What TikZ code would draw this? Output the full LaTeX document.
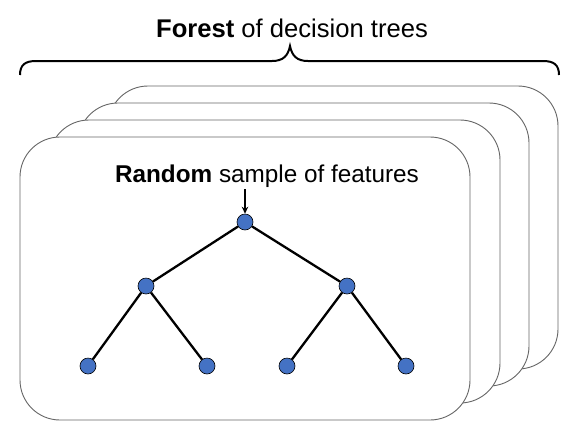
\documentclass[tikz,border=0pt]{standalone}
\usepackage{fontspec}
\setmainfont{Liberation Sans}
\usetikzlibrary{arrows.meta}
\definecolor{nodeblue}{HTML}{4472C4}
\tikzset{
  card/.style={draw=black!60, line width=0.9pt, fill=white, rounded corners=40pt},
  leafnode/.style={circle, draw=black, line width=0.6pt, fill=nodeblue, minimum size=16pt, inner sep=0pt},
  edge/.style={line width=2.3pt, black},
  bracestyle/.style={line width=2pt, black},
  label/.style={anchor=base, inner sep=0pt}
}
\begin{document}
\begin{tikzpicture}[x=1pt, y=-1pt]
\useasboundingbox (0,0) rectangle (578,429);
% stacked cards, back to front
\draw[card] (108,86) rectangle (558,369);
\draw[card] (78,103) rectangle (529,386);
\draw[card] (49,120) rectangle (500,403);
\draw[card] (20,137) rectangle (470,420);
% brace
\draw[bracestyle] (20,75) .. controls (20,65) and (25,61) .. (36,61) -- (272,61)
  .. controls (283,61) and (288,56) .. (290,46)
  .. controls (292,56) and (297,61) .. (308,61) -- (543,61)
  .. controls (554,61) and (559,65) .. (559,75);
% labels
\node[label, font=\fontsize{25.6}{30}\selectfont] (title) at (292,37) {\textbf{Forest} of decision trees};
\node[label, font=\fontsize{24.3}{29}\selectfont] (sample) at (267,182) {\textbf{Random} sample of features};
% tree
\node[leafnode] (root) at (245,222) {};
\node[leafnode] (l) at (146,286) {};
\node[leafnode] (r) at (347,286) {};
\node[leafnode] (ll) at (88,366) {};
\node[leafnode] (lr) at (207,366) {};
\node[leafnode] (rl) at (287,366) {};
\node[leafnode] (rr) at (406,366) {};
\coordinate (arrowtop) at (245,189);
\draw[edge] (root) -- (l);
\draw[edge] (root) -- (r);
\draw[edge] (l) -- (ll);
\draw[edge] (l) -- (lr);
\draw[edge] (r) -- (rl);
\draw[edge] (r) -- (rr);
\draw[line width=1.7pt, -{Stealth[length=7pt, width=6.5pt]}] (arrowtop) -- (root);
\end{tikzpicture}
\end{document}
